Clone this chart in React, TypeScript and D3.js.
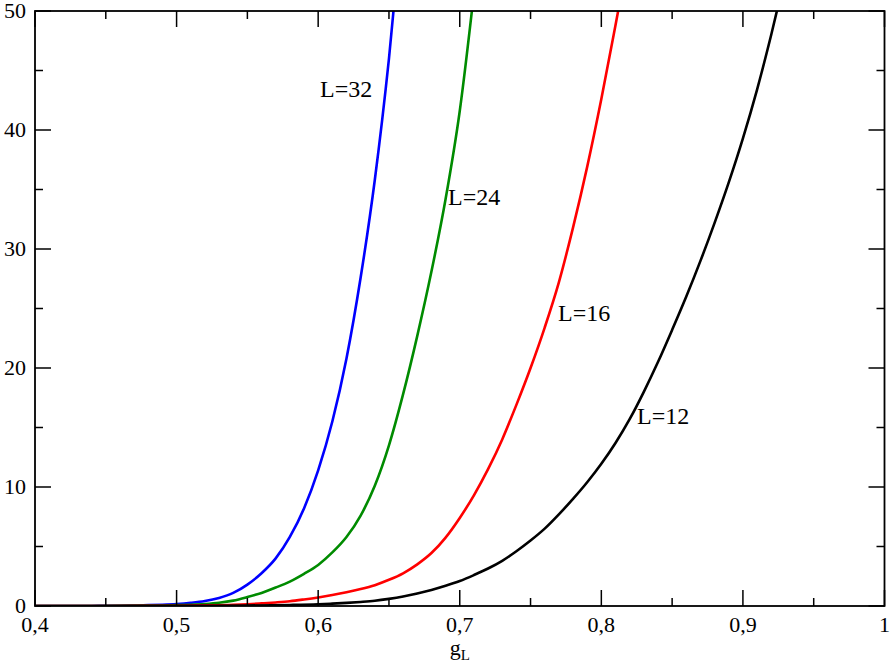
import React, { useEffect, useRef } from 'react';
import * as d3 from 'd3';

// x ticks / y ticks
const xTicks = [0.4, 0.5, 0.6, 0.7, 0.8, 0.9, 1];
const xTickLabels = ['0,4', '0,5', '0,6', '0,7', '0,8', '0,9', '1'];
const xMinor = [0.45, 0.55, 0.65, 0.75, 0.85, 0.95];
const yTicks = [0, 10, 20, 30, 40, 50];
const yMinor = [5, 15, 25, 35, 45];

// curves
const gL32 = [0.40, 0.42, 0.44, 0.45, 0.46, 0.47, 0.48, 0.49, 0.50, 0.51, 0.52, 0.53, 0.54, 0.55, 0.56, 0.57, 0.58, 0.59, 0.60, 0.61, 0.62, 0.63, 0.64, 0.65, 0.66];
const yL32 = [0, 0.003, 0.006, 0.01, 0.02, 0.04, 0.07, 0.11, 0.17, 0.27, 0.42, 0.68, 1.1, 1.8, 2.75, 4.0, 5.8, 8.2, 11.4, 15.5, 20.8, 27.6, 35.8, 46.0, 58.5];

const gL24 = [0.40, 0.42, 0.44, 0.46, 0.48, 0.49, 0.50, 0.51, 0.52, 0.53, 0.54, 0.55, 0.56, 0.57, 0.58, 0.59, 0.60, 0.61, 0.62, 0.63, 0.64, 0.65, 0.66, 0.67, 0.68, 0.69, 0.70, 0.71];
const yL24 = [0, 0.002, 0.005, 0.012, 0.03, 0.045, 0.07, 0.11, 0.17, 0.27, 0.45, 0.75, 1.1, 1.55, 2.05, 2.7, 3.45, 4.5, 5.8, 7.6, 10.1, 13.5, 17.8, 22.7, 28.1, 34.2, 41.6, 51.5];

const gL16 = [0.40, 0.44, 0.48, 0.50, 0.52, 0.54, 0.55, 0.56, 0.57, 0.58, 0.59, 0.60, 0.61, 0.62, 0.63, 0.64, 0.65, 0.66, 0.67, 0.68, 0.69, 0.70, 0.71, 0.72, 0.73, 0.74, 0.75, 0.76, 0.77, 0.78, 0.79, 0.80, 0.81, 0.82];
const yL16 = [0, 0.003, 0.01, 0.02, 0.05, 0.1, 0.15, 0.22, 0.3, 0.4, 0.55, 0.72, 0.92, 1.15, 1.42, 1.75, 2.2, 2.75, 3.5, 4.45, 5.75, 7.4, 9.3, 11.5, 14.0, 16.9, 20.0, 23.4, 27.2, 31.8, 36.9, 42.6, 48.8, 55.2];

const gL12 = [0.40, 0.45, 0.50, 0.55, 0.58, 0.60, 0.61, 0.62, 0.63, 0.64, 0.65, 0.66, 0.67, 0.68, 0.69, 0.70, 0.71, 0.72, 0.73, 0.74, 0.75, 0.76, 0.77, 0.78, 0.79, 0.80, 0.81, 0.82, 0.83, 0.84, 0.85, 0.86, 0.87, 0.88, 0.89, 0.90, 0.91, 0.92, 0.93];
const yL12 = [0, 0.002, 0.01, 0.04, 0.09, 0.15, 0.2, 0.26, 0.34, 0.44, 0.6, 0.8, 1.05, 1.35, 1.7, 2.1, 2.6, 3.15, 3.8, 4.6, 5.5, 6.5, 7.7, 9.0, 10.4, 11.95, 13.7, 15.7, 18.0, 20.5, 23.2, 26.0, 29.0, 32.2, 35.6, 39.3, 43.4, 48.0, 53.0];

const seriesNames = ['L=32', 'L=24', 'L=16', 'L=12'];
const seriesColors = ['#0000ff', '#008b00', '#ff0000', '#000000'];
const seriesG = [gL32, gL24, gL16, gL12];
const seriesY = [yL32, yL24, yL16, yL12];
// label anchor in data coords (left, baseline)
const labelG = [0.6013, 0.6917, 0.7694, 0.8252];
const labelY = [42.8, 33.7, 23.95, 15.3];

export default function App() {
  const ref = useRef<SVGSVGElement>(null);

  useEffect(() => {
    const svg = d3.select(ref.current);
    svg.selectAll('*').remove();

    const width = 892, height = 666;
    const margin = { top: 11, right: 7.5, bottom: 60, left: 35 };
    const plotW = width - margin.left - margin.right;
    const plotH = height - margin.top - margin.bottom;

    const x = d3.scaleLinear().domain([0.4, 1]).range([0, plotW]);
    const y = d3.scaleLinear().domain([0, 50]).range([plotH, 0]);

    const g = svg.append('g').attr('transform', `translate(${margin.left},${margin.top})`);

    g.append('defs').append('clipPath').attr('id', 'plot-clip')
      .append('rect').attr('x', 0).attr('y', 0).attr('width', plotW).attr('height', plotH);

    const curves = g.append('g').attr('clip-path', 'url(#plot-clip)');
    const line = d3.line<[number, number]>()
      .x(d => x(d[0])).y(d => y(d[1]))
      .curve(d3.curveMonotoneX);

    seriesG.forEach((gs, i) => {
      const pts: [number, number][] = gs.map((v, j) => [v, seriesY[i][j]]);
      curves.append('path')
        .datum(pts)
        .attr('d', line)
        .attr('fill', 'none')
        .attr('stroke', seriesColors[i])
        .attr('stroke-width', 2.6)
        .attr('stroke-linejoin', 'round');
    });

    // frame
    g.append('rect').attr('x', 0).attr('y', 0).attr('width', plotW).attr('height', plotH)
      .attr('fill', 'none').attr('stroke', '#000').attr('stroke-width', 1.8);

    const ticks = g.append('g').attr('stroke', '#000').attr('stroke-width', 1.5);
    const major = 16, minor = 8;
    xTicks.concat(xMinor).forEach((t, i) => {
      const len = i < xTicks.length ? major : minor;
      ticks.append('line').attr('x1', x(t)).attr('x2', x(t)).attr('y1', plotH).attr('y2', plotH - len);
      ticks.append('line').attr('x1', x(t)).attr('x2', x(t)).attr('y1', 0).attr('y2', len);
    });
    yTicks.concat(yMinor).forEach((t, i) => {
      const len = i < yTicks.length ? major : minor;
      ticks.append('line').attr('x1', 0).attr('x2', len).attr('y1', y(t)).attr('y2', y(t));
      ticks.append('line').attr('x1', plotW).attr('x2', plotW - len).attr('y1', y(t)).attr('y2', y(t));
    });

    const font = "'Liberation Serif', 'Times New Roman', serif";

    g.selectAll('.xlab').data(xTicks).enter().append('text')
      .attr('x', d => x(d)).attr('y', plotH + 26)
      .attr('text-anchor', 'middle')
      .attr('font-family', font).attr('font-size', 22)
      .text((d, i) => xTickLabels[i]);

    g.selectAll('.ylab').data(yTicks).enter().append('text')
      .attr('x', -9).attr('y', d => y(d) + 7)
      .attr('text-anchor', 'end')
      .attr('font-family', font).attr('font-size', 22)
      .text(d => String(d));

    // axis title g_L
    const title = g.append('text')
      .attr('x', plotW / 2).attr('y', plotH + 49)
      .attr('text-anchor', 'middle')
      .attr('font-family', font).attr('font-size', 22);
    title.append('tspan').text('g');
    title.append('tspan').attr('font-size', 15).attr('dy', 5).text('L');

    seriesNames.forEach((name, i) => {
      g.append('text')
        .attr('x', x(labelG[i])).attr('y', y(labelY[i]))
        .attr('font-family', font).attr('font-size', 24)
        .attr('fill', '#000')
        .text(name);
    });
  }, []);

  return (
    <svg ref={ref} width={892} height={666}
      style={{ position: 'absolute', left: 0, top: 0, background: '#fff' }} />
  );
}
